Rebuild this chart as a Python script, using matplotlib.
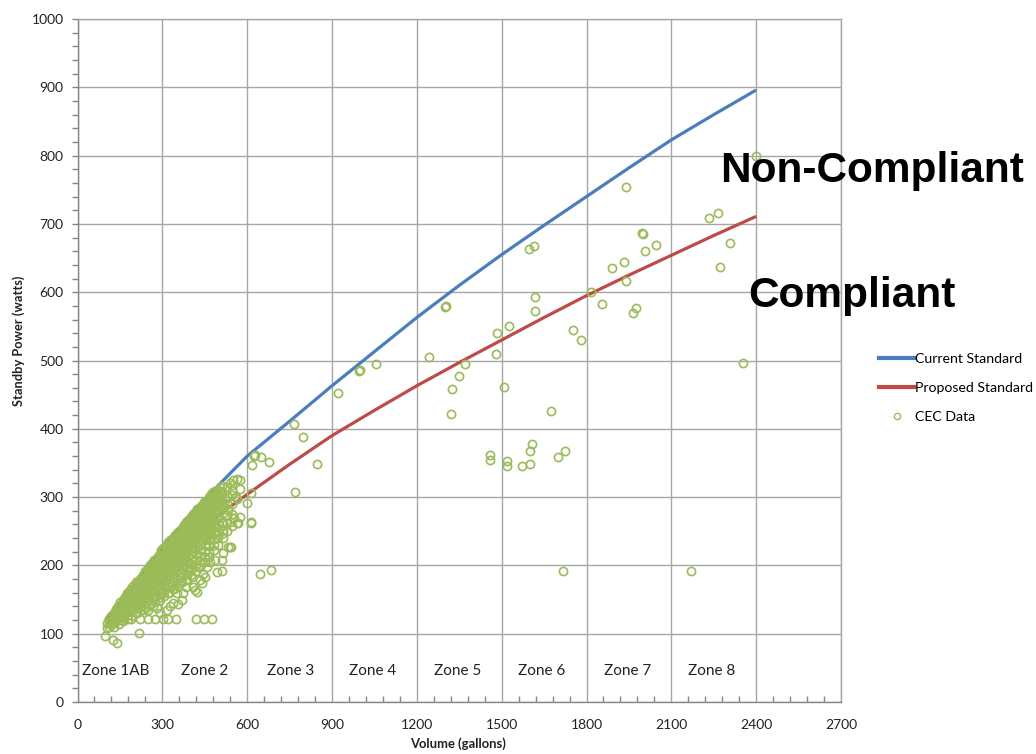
import matplotlib
matplotlib.use('Agg')
import matplotlib.pyplot as plt
from matplotlib.ticker import MultipleLocator
from matplotlib.lines import Line2D

plt.rcParams['font.family'] = ['Lato', 'DejaVu Sans']

# ---------------- data ----------------
x_ticks = [0, 300, 600, 900, 1200, 1500, 1800, 2100, 2400, 2700]
y_ticks = [0, 100, 200, 300, 400, 500, 600, 700, 800, 900, 1000]

zone_names = ['Zone 1AB', 'Zone 2', 'Zone 3', 'Zone 4', 'Zone 5', 'Zone 6', 'Zone 7', 'Zone 8']
zone_centers = [135, 450, 755, 1045, 1345, 1640, 1947, 2243]

volume_pts = [100, 150, 200, 300, 400, 500, 600, 750, 900, 1050, 1200, 1350,
              1500, 1650, 1800, 1950, 2100, 2250, 2400]
current_standard = [110, 140, 171, 225, 275, 318, 360, 411, 463, 513, 563, 610,
                    655, 698, 740, 782, 823, 860, 896]
proposed_standard = [121, 146, 168, 207, 242, 274, 304, 348, 390, 427, 463, 497,
                     530, 563, 595, 625, 654, 683, 711]

# CEC data: dense upper part of the cluster, volume column -> standby powers
cec_cluster_upper = {
    105: [108, 115],
    112: [110, 117, 122],
    120: [113, 119, 126],
    128: [115, 121, 128, 131],
    136: [119, 125, 131, 136],
    144: [121, 127, 134, 140],
    152: [124, 130, 136, 142, 146],
    160: [128, 134, 140, 145, 150],
    168: [131, 137, 143, 149, 154],
    176: [134, 140, 146, 152, 157, 160],
    184: [137, 143, 149, 155, 160, 164],
    192: [140, 146, 152, 158, 163, 168],
    200: [143, 149, 155, 161, 166, 171],
    208: [146, 152, 158, 164, 170, 175],
    216: [150, 156, 162, 168, 174, 179],
    224: [153, 159, 165, 171, 177, 182],
    232: [156, 162, 168, 174, 180, 186],
    240: [158, 164, 170, 177, 183, 189, 192],
    248: [161, 167, 173, 180, 186, 192, 196],
    256: [164, 170, 176, 183, 189, 195, 200],
    264: [166, 173, 179, 186, 192, 198, 204],
    272: [169, 176, 182, 189, 195, 202, 208],
    280: [172, 179, 185, 192, 198, 205, 211],
    288: [175, 182, 188, 195, 202, 208, 215],
    296: [178, 185, 191, 198, 205, 212, 219, 222],
    304: [181, 188, 195, 202, 209, 215, 222, 226],
    312: [184, 191, 198, 205, 212, 219, 226, 230],
    320: [187, 194, 201, 208, 215, 222, 229, 234],
    328: [190, 197, 204, 211, 218, 225, 232, 237],
    336: [193, 200, 207, 214, 221, 228, 235, 240],
    344: [196, 203, 210, 217, 224, 231, 238, 244],
    352: [199, 206, 213, 220, 227, 234, 241, 248],
    360: [202, 209, 216, 223, 230, 237, 244, 251],
    368: [205, 212, 219, 226, 233, 240, 247, 254],
    376: [208, 215, 222, 229, 236, 243, 250, 257, 259],
    384: [211, 218, 225, 232, 239, 246, 253, 259, 263],
    392: [214, 221, 228, 235, 242, 249, 256, 262, 267],
    400: [217, 224, 231, 238, 245, 252, 259, 265, 271],
    408: [221, 228, 235, 242, 249, 256, 262, 268, 275],
    416: [224, 231, 238, 245, 252, 259, 266, 272, 278],
    424: [228, 235, 242, 249, 256, 263, 270, 276, 282],
    432: [232, 239, 246, 253, 260, 267, 274, 280, 286],
    440: [237, 244, 251, 258, 265, 272, 279, 285, 289],
    448: [242, 249, 256, 263, 270, 277, 284, 290, 293],
    456: [247, 254, 261, 268, 275, 282, 289, 295],
    464: [252, 259, 266, 273, 280, 287, 294, 300],
    472: [258, 265, 272, 279, 286, 293, 299, 304],
    480: [264, 271, 278, 285, 292, 299, 305, 308],
    488: [271, 279, 287, 295, 302, 309],
    496: [278, 287, 295, 303, 310],
    504: [286, 294, 302, 309, 315],
    512: [292, 300, 308, 316],
}

# CEC data: looser lower part of the cluster, volume column -> standby powers
cec_cluster_lower = {
    130: [110],
    146: [114],
    162: [118, 124],
    178: [122, 128],
    194: [126, 133],
    210: [130, 137, 143],
    226: [134, 141, 148],
    242: [138, 145, 152],
    258: [142, 150, 158],
    274: [146, 154, 162],
    290: [150, 158, 166, 172],
    306: [155, 163, 171, 177],
    322: [160, 168, 176, 183],
    338: [165, 173, 181, 188],
    354: [170, 178, 186, 193],
    370: [175, 183, 191, 199],
    386: [180, 188, 196, 204],
    402: [186, 194, 202, 210],
    418: [192, 200, 208, 216],
    434: [198, 206, 214, 222],
    450: [205, 213, 221, 230, 238],
    466: [212, 220, 229, 237, 245],
    482: [222, 230, 238, 247, 256],
    498: [230, 240, 250, 260, 270],
    514: [240, 252, 264, 276, 286],
    530: [250, 262, 274, 290, 302],
    546: [258, 275, 290, 318],
}

# CEC data: individually visible points (volume, standby power)
cec_sparse = [
    (99, 96), (126, 91), (141, 87), (218, 101),
    (156, 120), (189, 121), (221, 121), (248, 121), (274, 121), (303, 121),
    (321, 121), (348, 121), (420, 121), (448, 121), (474, 121),
    (162, 130), (186, 135), (233, 135), (250, 135), (268, 140), (280, 137),
    (292, 130), (315, 135), (327, 140), (338, 145), (357, 144), (368, 149),
    (374, 159), (351, 159), (321, 159), (292, 154), (268, 154), (256, 144),
    (221, 144), (197, 144), (180, 149), (300, 160), (340, 165), (385, 168),
    (362, 174), (386, 179), (410, 169), (421, 161), (404, 183), (395, 190),
    (433, 179), (445, 188), (427, 198), (457, 198), (469, 205), (486, 208),
    (510, 208), (492, 191), (510, 192), (516, 218), (533, 227), (539, 227),
    (543, 227), (516, 247), (498, 245), (451, 183), (439, 174), (416, 164),
    (575, 271), (551, 269), (539, 264), (569, 262), (545, 303), (561, 300),
    (575, 312), (522, 298), (516, 286), (533, 281), (492, 281), (510, 262),
    (486, 257), (469, 252), (563, 327), (551, 325), (539, 320), (575, 325),
    (528, 315), (553, 270), (563, 262), (565, 297), (545, 310),
    (598, 291), (612, 306), (614, 263), (612, 262), (618, 347), (624, 360),
    (626, 362), (649, 358), (678, 352), (645, 187), (685, 193),
    (767, 407), (798, 388), (848, 348), (769, 307), (922, 453),
    (997, 485), (1000, 486), (1056, 495), (1243, 505), (1300, 579), (1302, 580),
    (1321, 422), (1323, 459), (1349, 477), (1370, 495), (1458, 362), (1458, 354),
    (1480, 510), (1485, 540), (1510, 461), (1518, 353), (1518, 346), (1525, 550),
    (1573, 346), (1598, 663), (1614, 668), (1599, 349), (1599, 367), (1608, 378),
    (1617, 572), (1618, 593), (1674, 426), (1698, 359), (1718, 192), (1724, 367),
    (1752, 545), (1782, 530), (1816, 600), (1856, 583), (1890, 635), (1931, 644),
    (1940, 617), (1940, 754), (1965, 570), (1975, 577), (1997, 686), (2000, 685),
    (2008, 661), (2047, 669), (2169, 192), (2233, 709), (2266, 716), (2272, 637),
    (2306, 672), (2354, 497), (2400, 800),
]

# ---------------- figure ----------------
W, H = 1036, 754
fig = plt.figure(figsize=(W / 100, H / 100), dpi=100)
ax = fig.add_axes([77.5 / W, 1 - 702 / H, (841 - 77.5) / W, 683 / H])

blue = '#4A7EBB'
red = '#BE4B48'
green = '#9BBB59'
gridc = '#A6A6A6'
axisc = '#868686'

ax.plot(volume_pts, current_standard, color=blue, lw=2.3, zorder=3,
        solid_capstyle='butt', solid_joinstyle='round')
ax.plot(volume_pts, proposed_standard, color=red, lw=2.3, zorder=3,
        solid_capstyle='butt', solid_joinstyle='round')

cx, cy = [], []
for cols in (cec_cluster_upper, cec_cluster_lower):
    for v, ps in cols.items():
        for p in ps:
            cx.append(v)
            cy.append(p)
for v, p in cec_sparse:
    cx.append(v)
    cy.append(p)
ax.plot(cx, cy, ls='none', marker='o', ms=5.9, mfc='none', mec=green,
        mew=1.2, zorder=4)

ax.set_xlim(0, 2700)
ax.set_ylim(0, 1000)
ax.set_xticks(x_ticks)
ax.set_yticks(y_ticks)
ax.xaxis.set_minor_locator(MultipleLocator(60))
ax.yaxis.set_minor_locator(MultipleLocator(20))
ax.grid(True, which='major', color=gridc, lw=1.0)
ax.set_axisbelow(True)

ax.tick_params(axis='y', which='major', direction='out', length=4, width=1,
               color=axisc, pad=6, labelsize=10, labelcolor='#222222')
ax.tick_params(axis='y', which='minor', direction='out', length=4, width=1, color=axisc)
ax.tick_params(axis='x', which='major', direction='in', length=0, pad=12,
               labelsize=10, labelcolor='#222222')
ax.tick_params(axis='x', which='minor', direction='in', length=4, width=1, color=axisc)

for s in ['left', 'bottom']:
    ax.spines[s].set_color(axisc)
    ax.spines[s].set_linewidth(1.0)
for s in ['top', 'right']:
    ax.spines[s].set_color(gridc)
    ax.spines[s].set_linewidth(1.0)

for name, xc in zip(zone_names, zone_centers):
    ax.text(xc, 45, name, ha='center', va='center', fontsize=11, color='#222222')

fig.text(18.5 / W, 1 - 341 / H, 'Standby Power (watts)', rotation=90,
         ha='center', va='center', fontsize=9.3, fontweight='bold', color='#222222')
fig.text(458.5 / W, 1 - 744 / H, 'Volume (gallons)', ha='center', va='center',
         fontsize=9.4, fontweight='bold', color='#222222')

fig.text(720 / W, 1 - 182 / H, 'Non-Compliant', ha='left', va='baseline',
         fontsize=30.5, fontweight='bold', family='Liberation Sans', color='black')
fig.text(748 / W, 1 - 307 / H, 'Compliant', ha='left', va='baseline',
         fontsize=30.5, fontweight='bold', family='Liberation Sans', color='black')

handles = [
    Line2D([], [], color=blue, lw=3),
    Line2D([], [], color=red, lw=3),
    Line2D([], [], ls='none', marker='o', ms=4.5, mfc='none', mec=green, mew=1.0),
]
fig.legend(handles, ['Current Standard', 'Proposed Standard', 'CEC Data'],
           loc='upper left', bbox_to_anchor=(879 / W, 1 - 353 / H),
           frameon=False, fontsize=10.2, handlelength=2.5, handletextpad=0.05,
           labelspacing=1.2, borderaxespad=0, borderpad=0)

fig.savefig('out.png', dpi=100, facecolor='white')
